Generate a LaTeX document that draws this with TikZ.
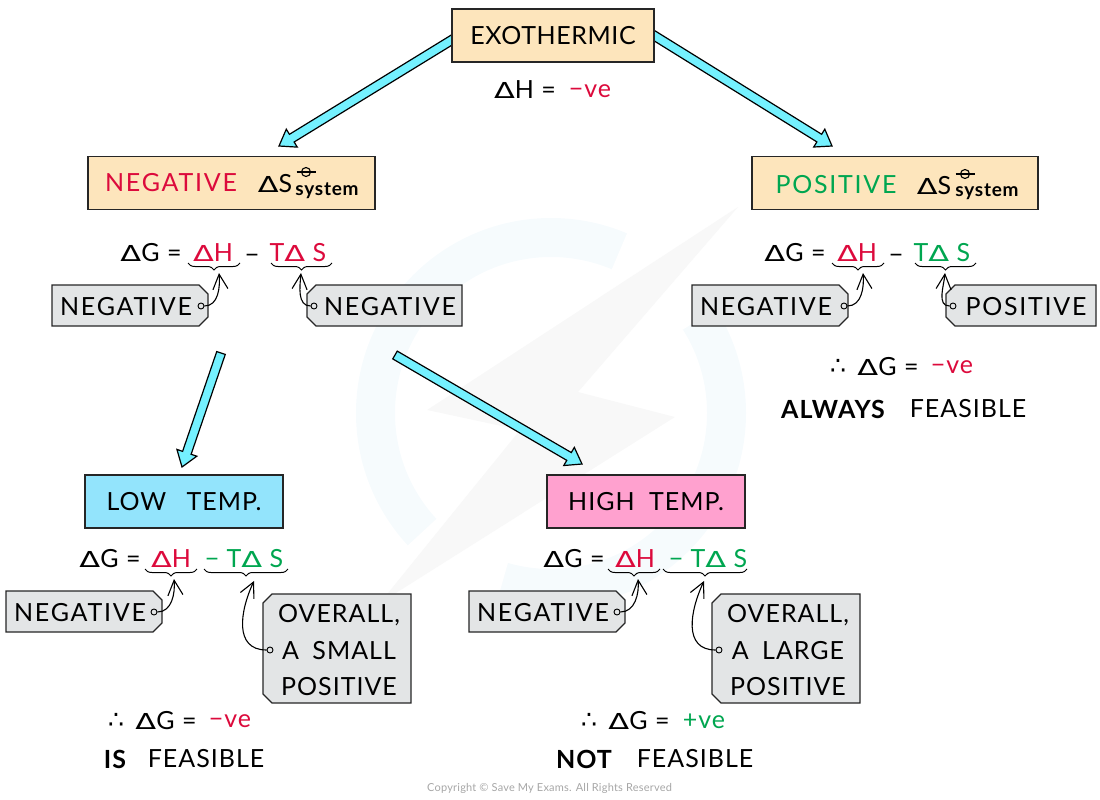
\documentclass[tikz,border=0pt]{standalone}
\usepackage{fontspec}
\setmainfont{Lato}[LetterSpace=4]
\newfontfamily\symfont{DejaVu Sans}
\usepackage{graphicx}
\usepackage{xcolor}
\usetikzlibrary{arrows.meta, calc, decorations.pathreplacing}
\definecolor{creambox}{HTML}{FDE5BC}
\definecolor{lowbox}{HTML}{93E4FC}
\definecolor{highbox}{HTML}{FFA1CF}
\definecolor{tagbox}{HTML}{E3E5E6}
\definecolor{arrowcyan}{HTML}{74F1FF}
\definecolor{negred}{HTML}{DC0A3C}
\definecolor{posgreen}{HTML}{00A650}
\definecolor{markblue}{HTML}{F6FBFD}
\definecolor{markgray}{HTML}{F8F8F8}
\newcommand{\dl}{\scalebox{1.22}[0.88]{\symfont\addfontfeature{LetterSpace=0}Δ}}
\tikzset{
  headbox/.style={draw=black!85, line width=1.3pt, minimum height=53pt, font=\fontsize{25}{25}\selectfont},
  eqtext/.style={inner sep=0pt, yshift=-1pt, font=\fontsize{25}{25}\selectfont},
  boldtext/.style={eqtext, font=\fontsize{25}{25}\selectfont\bfseries},
  widetext/.style={eqtext, font=\fontsize{25}{25}\selectfont\addfontfeature{LetterSpace=7}},
  subtext/.style={inner sep=0pt, font=\fontsize{19}{19}\selectfont\bfseries},
  tagline/.style={fill=tagbox, draw=black!85, line width=1.2pt},
  dotend/.style={circle, draw=black, fill=tagbox, line width=0.9pt, inner sep=0pt, minimum size=6pt},
  curvearrow/.style={draw=black, line width=1.1pt, -{Straight Barb[length=15pt, width=15pt]}},
  bracedraw/.style={draw=black, line width=1pt, decorate, decoration={brace, mirror, amplitude=7pt}},
}
% block arrow between two named points
\newcommand{\blockarrow}[2]{
  \coordinate (neck) at ($(#2)!15pt!(#1)$);
  \draw[fill=arrowcyan, draw=black, line width=1.2pt, line join=miter]
    ($(#1)!4.5pt!90:(#2)$) -- ($(neck)!4.5pt!-90:(#1)$) -- ($(neck)!10.5pt!-90:(#1)$) -- (#2)
    -- ($(neck)!10.5pt!90:(#1)$) -- ($(neck)!4.5pt!90:(#1)$) -- ($(#1)!4.5pt!-90:(#2)$) -- cycle;
}
% gray tags, cut corners on one side
\newcommand{\tagright}[4]{
  \draw[tagline] (#1,#2) -- (#3-9,#2) -- (#3,#2+9) -- (#3,#4-9) -- (#3-9,#4) -- (#1,#4) -- cycle;
}
\newcommand{\tagleft}[4]{
  \draw[tagline] (#1+9,#2) -- (#3,#2) -- (#3,#4) -- (#1+9,#4) -- (#1,#4-9) -- (#1,#2+9) -- cycle;
}
% standard state sign
\newcommand{\plimsoll}[2]{
  \draw[line width=1.1pt] (#1,#2) circle (4.5pt);
  \draw[line width=1.1pt] (#1-9.5,#2) -- (#1+9.5,#2);
}
\begin{document}
\begin{tikzpicture}[x=1pt, y=-1pt]
  \useasboundingbox (0,0) rectangle (1100,800);
  % Faint logo behind
  \draw[markblue, line width=39pt] (551,413) circle (175.5pt);
  \fill[white] (551,413) -- (650,179) -- (780,179) -- (755,284) -- cycle;
  \fill[white] (551,413) -- (365,585) -- (350,650) -- (485,643) -- cycle;
  \fill[markgray] (738,207) -- (427,410) -- (520,430) -- (380,603) -- (675,417) -- (578,392) -- cycle;
  % Arrows
  \coordinate (exoleft) at (455,38);
  \coordinate (negtip) at (279,146);
  \coordinate (exoright) at (650,33);
  \coordinate (postip) at (832,146);
  \coordinate (lowtail) at (221,353);
  \coordinate (lowtip) at (182,467);
  \coordinate (hightail) at (395,355);
  \coordinate (hightip) at (582,464);
  \blockarrow{exoleft}{negtip}
  \blockarrow{exoright}{postip}
  \blockarrow{lowtail}{lowtip}
  \blockarrow{hightail}{hightip}
  % Heading boxes
  \node[headbox, fill=creambox, minimum width=202pt] (exo) at (553,35.5) {\raisebox{-1pt}{\addfontfeature{LetterSpace=2.4}EXOTHERMIC}};
  \node[headbox, fill=creambox, minimum width=287pt] (negsys) at (231.5,183) {};
  \node[headbox, fill=creambox, minimum width=286pt] (possys) at (895,183) {};
  \node[headbox, fill=lowbox, minimum width=198pt] (lowtemp) at (184,501.5) {\raisebox{-1pt}{LOW\hspace{13pt} TEMP.}};
  \node[headbox, fill=highbox, minimum width=198pt] (hightemp) at (646,501.5) {\raisebox{-1pt}{HIGH\hspace{7pt} TEMP.}};
  % Text inside the system boxes
  \node[widetext, text=negred] (negword) at (171,182) {NEGATIVE};
  \node[eqtext] (negds) at (275,183) {\dl S};
  \node[subtext] (negsub) at (327,191) {system};
  \plimsoll{306}{172}
  \node[widetext, text=posgreen] (posword) at (836,184) {POSITIVE};
  \node[eqtext] (posds) at (934,185) {\dl S};
  \node[subtext] (possub) at (987,192) {system};
  \plimsoll{965}{174}
  % Top enthalpy line
  \node[eqtext] (toplhs) at (525,89) {\dl H =};
  \node[eqtext, text=negred] (toprhs) at (590,90) {−ve};
  % Equations below negative and positive
  \node[eqtext] (nega) at (151,252) {\dl G =};
  \node[eqtext, text=negred] (negb) at (213,252) {\dl H};
  \node[eqtext] (negc) at (252,258) {−};
  \node[eqtext, text=negred] (negd) at (298,252) {T\dl\ S};
  \node[eqtext] (posa) at (795,252) {\dl G =};
  \node[eqtext, text=negred] (posb) at (857,252) {\dl H};
  \node[eqtext] (posc) at (896,258) {−};
  \node[eqtext, text=posgreen] (posd) at (942,252) {T\dl\ S};
  % Equations below low and high temp
  \node[eqtext] (lowa) at (110,558) {\dl G =};
  \node[eqtext, text=negred] (lowb) at (171,558) {\dl H};
  \node[eqtext, text=posgreen] (lowc) at (244,558) {− T\dl\ S};
  \node[eqtext] (higha) at (574,558) {\dl G =};
  \node[eqtext, text=negred] (highb) at (635,558) {\dl H};
  \node[eqtext, text=posgreen] (highc) at (708,558) {− T\dl\ S};
  % Braces
  \draw[bracedraw] (188,263) -- (240,263);
  \draw[bracedraw] (271,263) -- (332,263);
  \draw[bracedraw] (832,263) -- (884,263);
  \draw[bracedraw] (915,263) -- (976,263);
  \draw[bracedraw] (145,569) -- (197,569);
  \draw[bracedraw] (204,569) -- (288,569);
  \draw[bracedraw] (608,569) -- (660,569);
  \draw[bracedraw] (663,569) -- (747,569);
  % Tags
  \tagright{52}{285}{208}{326}
  \tagleft{307}{285}{462}{326}
  \tagright{692}{285}{848}{326}
  \tagleft{946}{285}{1096}{326}
  \tagright{6}{591}{162}{632}
  \tagright{469}{591}{625}{632}
  \tagleft{263}{594}{411}{703}
  \tagleft{712}{594}{860}{703}
  \node[widetext] (tagnega) at (126,306) {NEGATIVE};
  \node[widetext] (tagnegb) at (390,306) {NEGATIVE};
  \node[widetext] (tagposa) at (766,306) {NEGATIVE};
  \node[widetext] (tagposb) at (1026,306) {POSITIVE};
  \node[widetext] (taglowa) at (80,612) {NEGATIVE};
  \node[widetext] (taghigha) at (543,612) {NEGATIVE};
  \foreach \tx/\ty/\tl in {339/614/{OVERALL,}, 339/650/{A\hspace{6pt} SMALL}, 339/686/{POSITIVE}, 788/614/{OVERALL,}, 788/650/{A\hspace{6pt} LARGE}, 788/686/{POSITIVE}} {
    \node[eqtext] at (\tx,\ty) {\tl};
  }
  % Dots and curved arrows
  \node[dotend] (dota) at (201,306) {};
  \node[dotend] (dotb) at (314,306) {};
  \node[dotend] (dotc) at (844,306) {};
  \node[dotend] (dotd) at (953,306) {};
  \node[dotend] (dote) at (154,612) {};
  \node[dotend] (dotf) at (270,650) {};
  \node[dotend] (dotg) at (617,612) {};
  \node[dotend] (doth) at (719,650) {};
  \coordinate (bracea) at (219,273);
  \coordinate (braceb) at (301,273);
  \coordinate (bracec) at (863,273);
  \coordinate (braced) at (945,273);
  \coordinate (bracee) at (174,579);
  \coordinate (bracef) at (254,581);
  \coordinate (braceg) at (638,579);
  \coordinate (braceh) at (704,581);
  \draw[curvearrow] (dota) to[out=0, in=-85] (bracea);
  \draw[curvearrow] (dotb) to[out=180, in=-95] (braceb);
  \draw[curvearrow] (dotc) to[out=0, in=-85] (bracec);
  \draw[curvearrow] (dotd) to[out=180, in=-95] (braced);
  \draw[curvearrow] (dote) to[out=0, in=-85] (bracee);
  \draw[curvearrow] (dotf) to[out=180, in=-115, looseness=1.2] (bracef);
  \draw[curvearrow] (dotg) to[out=0, in=-85] (braceg);
  \draw[curvearrow] (doth) to[out=180, in=-115, looseness=1.2] (braceh);
  % Conclusions
  \node[eqtext, font=\fontsize{25}{25}\symfont] (thra) at (838,366) {∴};
  \node[eqtext] (thrb) at (888,366) {\dl G =};
  \node[eqtext, text=negred] (thrc) at (952,366) {−ve};
  \node[boldtext] (feasa) at (833,408) {ALWAYS};
  \node[eqtext] (feasb) at (968,408) {FEASIBLE};
  \node[eqtext, font=\fontsize{25}{25}\symfont] (thrd) at (116,720) {∴};
  \node[eqtext] (thre) at (166,720) {\dl G =};
  \node[eqtext, text=negred] (thrf) at (230,720) {−ve};
  \node[boldtext] (feasc) at (115,758) {IS};
  \node[eqtext] (feasd) at (206,758) {FEASIBLE};
  \node[eqtext, font=\fontsize{25}{25}\symfont] (thrg) at (589,720) {∴};
  \node[eqtext] (thrh) at (639,720) {\dl G =};
  \node[eqtext, text=posgreen] (thri) at (704,720) {+ve};
  \node[boldtext] (fease) at (584,758) {NOT};
  \node[eqtext] (feasf) at (695,758) {FEASIBLE};
  % Footer
  \node[inner sep=0pt, text=black!35, font=\fontsize{11}{11}\selectfont\addfontfeature{LetterSpace=2}] (copyright) at (549.5,788) {Copyright © Save My Exams. All Rights Reserved};
\end{tikzpicture}
\end{document}
